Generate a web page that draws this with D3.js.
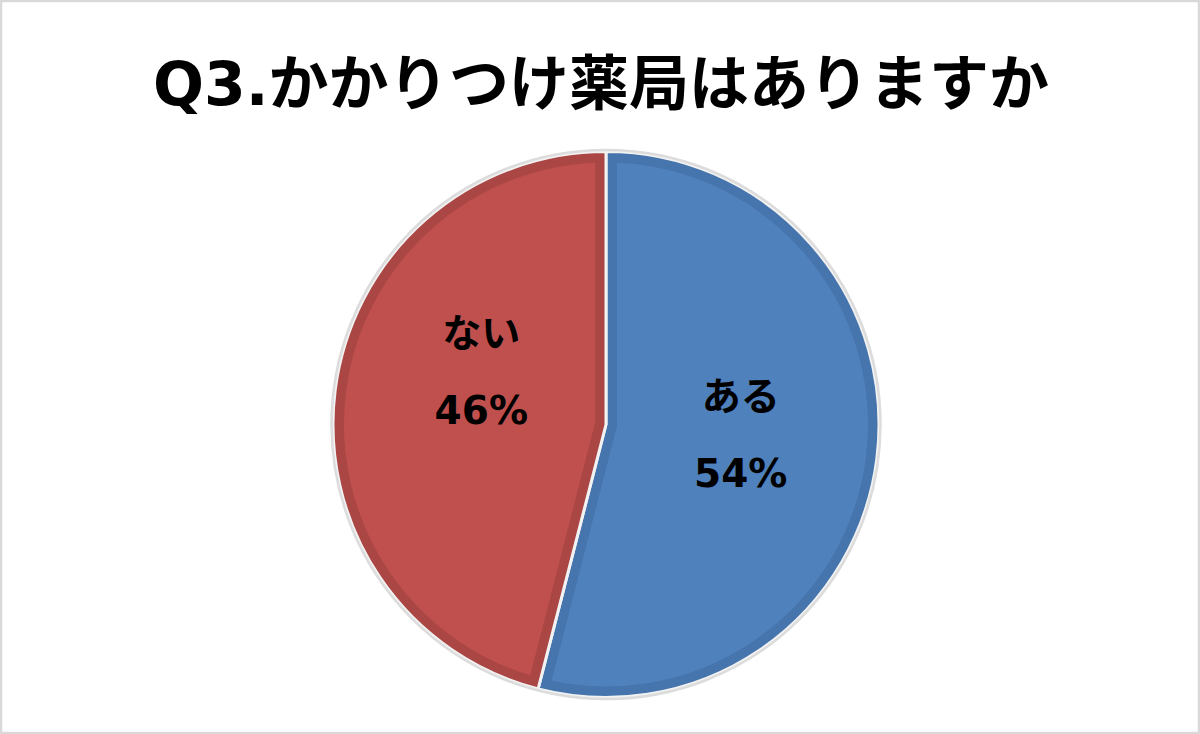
<!DOCTYPE html>
<html>
<head>
<meta charset="utf-8">
<script src="https://cdn.jsdelivr.net/npm/d3@7"></script>
<style>
  body { margin: 0; background: #fff; }
  svg { display: block; }
</style>
</head>
<body>
<svg width="1200" height="734"></svg>
<script>
// data
const title = "Q3.かかりつけ薬局はありますか";
const categories = ["ある", "ない"];
const values = [54, 46];
const colors = ["#4F81BD", "#C0504D"];
const edgeColors = ["#4674AC", "#AA4644"];
// best-fit label nudge (Excel style)
const labelNudge = [[2, -6], [8, -36]];

const svg = d3.select("svg"),
    width = +svg.attr("width"),
    height = +svg.attr("height");

// frame
svg.append("rect")
    .attr("x", 1).attr("y", 1)
    .attr("width", width - 2).attr("height", height - 2)
    .attr("fill", "#fff")
    .attr("stroke", "#d9d9d9")
    .attr("stroke-width", 2.5);

// title
svg.append("text")
    .attr("x", 601)
    .attr("y", 105)
    .attr("text-anchor", "middle")
    .style("font-family", "'DejaVu Sans', 'Noto Sans CJK JP', sans-serif")
    .style("font-weight", "bold")
    .style("font-size", "60px")
    .attr("fill", "#000")
    .text(title);

const cx = 606, cy = 424.5, r = 273;

const pie = d3.pie().sort(null).value(d => d.value);
const arcs = pie(categories.map((c, i) => ({ name: c, value: values[i], i })));
const arc = d3.arc().innerRadius(0).outerRadius(r);

const g = svg.append("g").attr("transform", `translate(${cx},${cy})`);
const defs = svg.append("defs");

arcs.forEach((a, i) => {
    defs.append("clipPath").attr("id", "clip" + i)
        .append("path").attr("d", arc(a));
});

const slices = g.selectAll("g.slice")
    .data(arcs)
    .enter()
    .append("g")
    .attr("class", "slice");

// slice fill
slices.append("path")
    .attr("d", arc)
    .attr("fill", d => colors[d.data.i]);

// bevel band along the inside of every edge
slices.append("path")
    .attr("d", arc)
    .attr("fill", "none")
    .attr("stroke", d => edgeColors[d.data.i])
    .attr("stroke-width", 22)
    .attr("clip-path", d => `url(#clip${d.data.i})`);

// separators + outer rim
slices.append("path")
    .attr("d", arc)
    .attr("fill", "none")
    .attr("stroke", "#f2f2f2")
    .attr("stroke-width", 3)
    .attr("stroke-linejoin", "round");

g.append("circle")
    .attr("r", r + 1.5)
    .attr("fill", "none")
    .attr("stroke", "#dcdcdc")
    .attr("stroke-width", 2.5);

// labels
const labelArc = d3.arc().innerRadius(r * 0.49).outerRadius(r * 0.49);
const labels = g.selectAll("g.label")
    .data(arcs)
    .enter()
    .append("g")
    .attr("class", "label")
    .attr("transform", d => {
        const [x, y] = labelArc.centroid(d);
        const n = labelNudge[d.data.i];
        return `translate(${x + n[0]},${y + n[1]})`;
    })
    .style("font-family", "'DejaVu Sans', 'Noto Sans CJK JP', sans-serif")
    .style("font-weight", "bold")
    .style("font-size", "39px")
    .attr("text-anchor", "middle")
    .attr("fill", "#000");

labels.append("text")
    .attr("y", -25)
    .text(d => d.data.name);

labels.append("text")
    .attr("y", 52)
    .text(d => d.data.value + "%");
</script>
</body>
</html>
